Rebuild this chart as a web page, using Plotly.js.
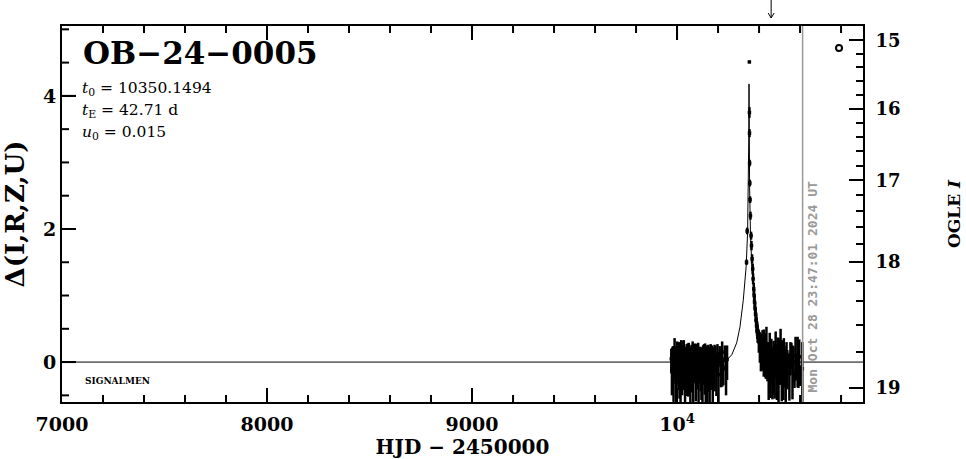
<!DOCTYPE html>
<html><head><meta charset="utf-8">
<script src="https://cdn.plot.ly/plotly-3.0.1.min.js"></script>
<style>html,body{margin:0;padding:0;background:#fff}#chart{width:966px;height:459px}</style>
</head><body><div id="chart"></div>
<script>
// ---------- data ----------
const eventName = "OB−24−0005";
const t0Text = "10350.1494", tEText = "42.71", u0Text = "0.015";
const xTickVals = [7000, 8000, 9000, 10000];
const xTickText = ["7000", "8000", "9000", "10<sup>4</sup>"];
const yTickVals = [0, 2, 4];
const magTicks = [15, 16, 17, 18, 19];
const magMinor = [14.8, 15.2, 15.4, 15.6, 15.8, 16.2, 16.4, 16.6, 16.8, 17.2, 17.4, 17.6, 17.8, 18.2, 18.4, 18.6, 18.8];
const baseMag = 18.86, srcFrac = 0.40;

const preT = [9972,9975,9977,9980,9983,9985,9988,9991,9993,9996,9999,10001,10004,10007,10009,10012,10015,10017,10020,10023,10025,10028,10031,10033,10036,10039,10041,10044,10047,10049,10052,10055,10057,10060,10063,10065,10068,10071,10073,10076,10079,10081,10084,10087,10089,10092,10095,10097,10100,10103,10105,10108,10111,10113,10116,10119,10121,10124,10127,10129,10132,10135,10137,10140,10143,10145,10148,10151,10153,10156,10159,10161,10164,10167,10170,10174,10178,10183,10187,10192,10197,10202,10208,10214,10220,10226,10233,10239,10244];
const preD = [0.05,-0.10,0.12,0.02,-0.20,-0.08,0.10,0.15,-0.03,-0.25,-0.12,0.06,0.18,0.00,-0.15,-0.05,0.08,-0.22,0.12,0.03,-0.06,-0.18,0.20,0.09,-0.02,-0.28,-0.10,0.14,0.05,-0.08,0.17,-0.14,-0.04,0.10,0.02,-0.20,0.07,0.16,-0.09,-0.01,-0.24,0.11,0.04,-0.06,0.19,-0.16,0.00,0.08,-0.11,0.13,-0.19,-0.04,0.09,0.15,-0.07,-0.13,0.05,-0.26,0.12,0.01,0.07,-0.09,0.18,-0.15,-0.02,0.10,-0.21,0.04,0.14,-0.06,-0.17,0.09,0.02,-0.12,0.16,-0.23,0.06,-0.03,0.11,-0.14,0.08,-0.19,0.13,-0.05,0.03,-0.10,0.15,-0.07,0.04];
const preEp = [0.15,0.30,0.10,0.22,0.34,0.12,0.26,0.09,0.20,0.33,0.14,0.25,0.11,0.29,0.18,0.35,0.13,0.27,0.21,0.10,0.31,0.16,0.12,0.24,0.19,0.34,0.28,0.09,0.22,0.30,0.11,0.26,0.33,0.15,0.20,0.29,0.13,0.10,0.25,0.32,0.35,0.14,0.23,0.18,0.09,0.30,0.27,0.12,0.21,0.16,0.33,0.19,0.11,0.08,0.26,0.31,0.17,0.34,0.13,0.24,0.20,0.28,0.10,0.32,0.22,0.15,0.35,0.18,0.12,0.27,0.30,0.14,0.25,0.21,0.09,0.33,0.16,0.29,0.13,0.26,0.19,0.34,0.11,0.23,0.28,0.17,0.10,0.30,0.21];
const preEm = [0.22,0.40,0.15,0.33,0.45,0.18,0.35,0.14,0.30,0.48,0.20,0.37,0.16,0.42,0.26,0.50,0.19,0.38,0.31,0.15,0.44,0.24,0.18,0.35,0.28,0.47,0.40,0.13,0.32,0.43,0.16,0.38,0.46,0.22,0.29,0.41,0.19,0.15,0.36,0.45,0.49,0.21,0.33,0.26,0.14,0.43,0.39,0.18,0.30,0.24,0.46,0.28,0.16,0.12,0.37,0.44,0.25,0.48,0.19,0.35,0.29,0.40,0.15,0.45,0.32,0.22,0.50,0.26,0.18,0.39,0.43,0.20,0.36,0.30,0.13,0.47,0.24,0.41,0.19,0.37,0.28,0.48,0.16,0.33,0.40,0.25,0.15,0.43,0.31];

const peakT = [10339,10342,10352.7,10353.0,10353.5,10354,10355,10356,10358,10361,10363,10366,10369,10371,10374,10376,10378,10381,10383,10386,10388,10391,10393];
const peakD = [1.50,1.97,4.51,3.75,3.44,2.99,2.69,2.44,2.20,1.90,1.75,1.55,1.40,1.25,1.10,1.00,0.90,0.80,0.72,0.62,0.55,0.48,0.42];
const peakE = [0.04,0.05,0.01,0.08,0.06,0.05,0.05,0.05,0.06,0.06,0.07,0.07,0.08,0.08,0.09,0.09,0.10,0.10,0.11,0.11,0.12,0.13,0.13];

const postT = [10396,10399,10401,10404,10407,10409,10412,10415,10417,10420,10423,10425,10428,10431,10433,10436,10439,10441,10444,10447,10449,10452,10455,10457,10460,10463,10465,10468,10471,10473,10476,10479,10481,10484,10487,10489,10492,10495,10497,10500,10503,10505,10508,10511,10513,10516,10519,10521,10524,10527,10530,10534,10538,10543,10548,10553,10558,10563,10568,10573,10578,10583,10588,10592,10596,10600,10611];
const postD = [0.40,0.33,0.36,0.25,0.30,0.18,0.27,0.14,0.22,0.08,0.19,0.02,0.12,0.15,-0.04,0.20,-0.10,0.05,0.10,-0.15,0.08,0.17,-0.06,-0.20,0.12,0.01,-0.12,0.14,0.06,-0.22,-0.08,0.10,0.18,-0.03,-0.16,0.07,0.13,-0.25,0.02,0.09,-0.11,0.15,-0.05,-0.19,0.11,0.04,-0.14,0.16,-0.02,0.07,-0.21,0.12,-0.07,0.03,-0.17,0.09,0.14,-0.09,0.01,-0.24,0.10,-0.04,0.06,-0.13,0.08,-0.18,-0.10];
const postEp = [0.10,0.15,0.08,0.20,0.13,0.24,0.11,0.19,0.26,0.14,0.30,0.12,0.22,0.28,0.16,0.33,0.10,0.25,0.20,0.31,0.14,0.27,0.35,0.12,0.23,0.18,0.32,0.09,0.26,0.21,0.34,0.15,0.28,0.11,0.30,0.19,0.24,0.33,0.13,0.27,0.17,0.35,0.10,0.29,0.22,0.14,0.31,0.20,0.26,0.12,0.33,0.18,0.25,0.09,0.30,0.21,0.15,0.34,0.23,0.11,0.28,0.16,0.32,0.19,0.26,0.13,0.40];
const postEm = [0.12,0.19,0.10,0.26,0.17,0.32,0.14,0.25,0.35,0.18,0.41,0.16,0.30,0.38,0.21,0.45,0.13,0.34,0.27,0.42,0.19,0.37,0.48,0.16,0.31,0.24,0.44,0.12,0.35,0.28,0.47,0.20,0.38,0.15,0.41,0.26,0.33,0.45,0.17,0.37,0.23,0.49,0.13,0.40,0.30,0.19,0.43,0.27,0.36,0.16,0.45,0.24,0.34,0.12,0.41,0.29,0.20,0.47,0.31,0.15,0.38,0.22,0.44,0.26,0.36,0.18,0.55];

const modelT = [7000,10200,10242,10267,10291,10307,10323,10337,10344,10348,10350,10351,10352,10354,10358,10365,10379,10395,10411,10435,10460,10502,10907];
const modelD = [0,0.00,0.03,0.11,0.29,0.53,0.93,1.43,1.94,2.60,3.40,4.18,3.40,2.60,1.94,1.43,0.93,0.53,0.29,0.11,0.03,0.00,0];

const nowT = [10790], nowD = [4.72];
const dateT = 10612.5;
const arrowT = 10459;
const dateText = "Mon Oct 28 23:47:01 2024 UT";

// ---------- helpers ----------
function magToDelta(m) {
  const f = Math.pow(10, -0.4 * (m - baseMag));
  return 2.5 * Math.log10((f - 1 + srcFrac) / srcFrac);
}
const xRange = [7000, 10907], yRange = [-0.60, 5.05];
const xMinor = [];
for (let v = 7200; v < xRange[1]; v += 200) if (v % 1000 !== 0) xMinor.push(v);
const yMinor = [];
for (let v = -0.5; v <= 5.0001; v += 0.5) if (Math.abs(v % 2) > 1e-6) yMinor.push(v);

const L = 62, T = 26, W = 801, H = 376;
const px = x => (x - L) / W;
const py = y => (T + H - y) / H;
const xPerPx = (xRange[1] - xRange[0]) / W;
const yPerPx = (yRange[1] - yRange[0]) / H;

// inward tick marks for bottom, top and left axes (built from the tick arrays)
const tkX = [], tkY = [];
function xTick(v, len) {
  tkX.push(v, v, null, v, v, null);
  tkY.push(yRange[0], yRange[0] + len * yPerPx, null, yRange[1], yRange[1] - len * yPerPx, null);
}
function yTick(v, len) {
  tkX.push(xRange[0], xRange[0] + len * xPerPx, null);
  tkY.push(v, v, null);
}
xTickVals.slice(1).forEach(v => xTick(v, 14));
xMinor.forEach(v => xTick(v, 7));
yTickVals.forEach(v => yTick(v, 14));
yMinor.forEach(v => yTick(v, 7));

const SERIF = "DejaVu Serif";
const errStyle = {color: "#000", thickness: 2.5, width: 0};
const mk = {symbol: "square", size: 3.5, color: "#000"};

const traces = [
  {x: tkX, y: tkY, type: "scatter", mode: "lines", line: {color: "#000", width: 2}, connectgaps: false, hoverinfo: "skip", cliponaxis: false},
  {x: modelT, y: modelD, type: "scatter", mode: "lines", line: {color: "#000", width: 1}, hoverinfo: "skip"},
  {x: preT, y: preD, type: "scatter", mode: "markers", marker: mk,
   error_y: Object.assign({type: "data", symmetric: false, array: preEp, arrayminus: preEm}, errStyle)},
  {x: peakT, y: peakD, type: "scatter", mode: "markers", marker: mk,
   error_y: Object.assign({type: "data", array: peakE}, errStyle)},
  {x: postT, y: postD, type: "scatter", mode: "markers", marker: mk,
   error_y: Object.assign({type: "data", symmetric: false, array: postEp, arrayminus: postEm}, errStyle)},
  {x: nowT, y: nowD, type: "scatter", mode: "markers",
   marker: {symbol: "circle-open", size: 6, color: "#000", line: {width: 2, color: "#000"}}},
  {x: [null], y: [null], yaxis: "y2", type: "scatter", mode: "markers", showlegend: false, hoverinfo: "skip"}
];

const frame = {showgrid: false, zeroline: false, showline: true, linewidth: 2, linecolor: "#000"};

const layout = {
  width: 966, height: 459,
  margin: {l: L, r: 966 - L - W, t: T, b: 459 - T - H, pad: 0},
  paper_bgcolor: "#fff", plot_bgcolor: "#fff",
  showlegend: false,
  font: {family: SERIF, color: "#000"},
  xaxis: Object.assign({
    range: xRange, mirror: "ticks",
    ticks: "inside", ticklen: 14, tickwidth: 2, tickcolor: "#000",
    tickmode: "array", tickvals: xTickVals, ticktext: xTickText,
    tickfont: {family: SERIF, size: 19, weight: "bold"}, ticklabelstandoff: 4,
    title: {text: "HJD − 2450000", font: {family: SERIF, size: 20, weight: "bold"}, standoff: 21}
  }, frame),
  yaxis: Object.assign({
    range: yRange,
    ticks: "inside", ticklen: 14, tickwidth: 2, tickcolor: "#000",
    tickmode: "array", tickvals: yTickVals,
    tickfont: {family: SERIF, size: 19, weight: "bold"},
    title: {text: "Δ(I,R,Z,U)", font: {family: SERIF, size: 26, weight: "bold"}, standoff: 11}
  }, frame),
  yaxis2: Object.assign({
    overlaying: "y", anchor: "x", side: "right", range: yRange,
    tickmode: "array", tickvals: magTicks.map(magToDelta), ticktext: magTicks.map(String),
    ticks: "inside", ticklen: 14, tickwidth: 2, tickcolor: "#000",
    tickfont: {family: SERIF, size: 18, weight: "bold"}, ticklabelstandoff: 7,
    minor: {tickmode: "array", tickvals: magMinor.map(magToDelta), ticks: "inside", ticklen: 7, tickwidth: 2, tickcolor: "#000", showgrid: false},
    title: {text: "OGLE <i>I</i>", font: {family: SERIF, size: 17, weight: "bold"}, standoff: 48}
  }, frame),
  shapes: [
    {type: "line", xref: "x", yref: "paper", x0: dateT, x1: dateT, y0: 0, y1: 1, line: {color: "#999", width: 1.5}},
    {type: "line", xref: "x", yref: "paper", x0: arrowT, x1: arrowT, y0: py(0), y1: py(18), line: {color: "#000", width: 1}},
    {type: "path", xref: "x", yref: "paper", xsizemode: "pixel", ysizemode: "pixel",
     xanchor: arrowT, yanchor: py(18), path: "M -3,5 L 0,0 L 3,5", line: {color: "#000", width: 1}}
  ],
  annotations: [
    {xref: "paper", yref: "paper", x: px(81), y: py(52.5), xanchor: "left", yanchor: "middle", showarrow: false,
     text: eventName, font: {family: SERIF, size: 31, weight: "bold"}},
    {xref: "paper", yref: "paper", x: px(80), y: py(89), xanchor: "left", yanchor: "middle", showarrow: false,
     text: "<i>t</i><sub>0</sub> = " + t0Text, font: {family: SERIF, size: 15.5}},
    {xref: "paper", yref: "paper", x: px(80), y: py(111), xanchor: "left", yanchor: "middle", showarrow: false,
     text: "<i>t</i><sub>E</sub> = " + tEText + " d", font: {family: SERIF, size: 15.5}},
    {xref: "paper", yref: "paper", x: px(80), y: py(133), xanchor: "left", yanchor: "middle", showarrow: false,
     text: "<i>u</i><sub>0</sub> = " + u0Text, font: {family: SERIF, size: 15.5}},
    {xref: "paper", yref: "paper", x: px(83), y: py(381), xanchor: "left", yanchor: "middle", showarrow: false,
     text: "SIGNALMEN", font: {family: SERIF, size: 9, weight: "bold"}},
    {xref: "paper", yref: "paper", x: px(811.5), y: py(287), xanchor: "center", yanchor: "middle", showarrow: false,
     textangle: -90, text: dateText, font: {family: "DejaVu Sans Mono", size: 13, weight: "bold", color: "#999"}}
  ]
};

Plotly.newPlot("chart", traces, layout, {displayModeBar: false});
</script></body></html>
